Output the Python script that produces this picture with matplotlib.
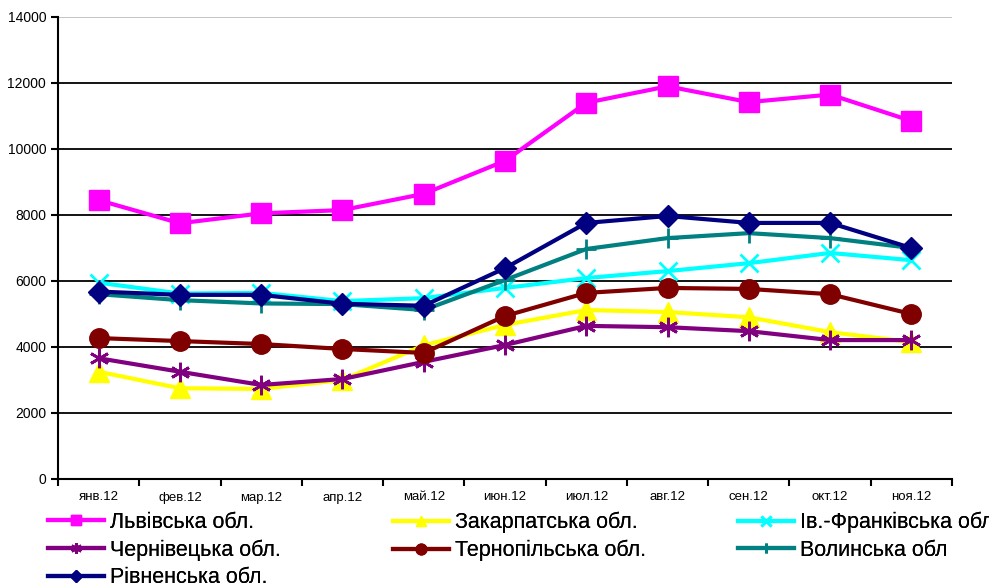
import matplotlib
matplotlib.use("Agg")
import matplotlib.pyplot as plt
from matplotlib import font_manager
import numpy as np

months = ["янв.12", "фев.12", "мар.12", "апр.12", "май.12", "июн.12",
          "июл.12", "авг.12", "сен.12", "окт.12", "ноя.12"]

lviv = [8450, 7750, 8050, 8150, 8640, 9640, 11400, 11900, 11420, 11650, 10850]
zakarp = [3250, 2750, 2730, 3000, 4050, 4670, 5120, 5060, 4900, 4450, 4150]
ivfr = [5950, 5620, 5640, 5390, 5480, 5790, 6090, 6300, 6540, 6850, 6630]
cherniv = [3660, 3250, 2850, 3030, 3550, 4060, 4640, 4600, 4480, 4210, 4210]
ternop = [4270, 4180, 4090, 3940, 3820, 4940, 5640, 5790, 5760, 5600, 5000]
volyn = [5600, 5420, 5320, 5300, 5120, 6030, 6970, 7300, 7450, 7300, 7000]
rivne = [5680, 5580, 5580, 5310, 5250, 6390, 7760, 7970, 7760, 7760, 7000]

names = ["Львівська обл.", "Закарпатська обл.", "Ів.-Франківська обл.",
         "Чернівецька обл.", "Тернопільська обл.", "Волинська обл",
         "Рівненська обл."]

avail = {f.name for f in font_manager.fontManager.ttflist}
narrow = "Liberation Sans Narrow" if "Liberation Sans Narrow" in avail else "Liberation Sans"
plt.rcParams['font.family'] = ['Liberation Sans', 'DejaVu Sans']

fig = plt.figure(figsize=(9.89, 5.85), dpi=100)
ax = fig.add_axes([58/989, 1-479/585, (952-58)/989, (479-17)/585])

x = np.arange(len(months))
styles = [
    (lviv, "#FF00FF", dict(marker="s", markersize=14)),
    (zakarp, "#FFFF00", dict(marker="^", markersize=14)),
    (ivfr, "#00FFFF", dict(marker="x", markersize=13, markeredgewidth=2)),
    (cherniv, "#800080", dict(marker=(6, 2, 0), markersize=14, markeredgewidth=2)),
    (ternop, "#800000", dict(marker="o", markersize=14)),
    (volyn, "#008080", dict(marker="+", markersize=14, markeredgewidth=2)),
    (rivne, "#000080", dict(marker="D", markersize=11)),
]
handles = []
for i, (vals, col, mk) in enumerate(styles):
    h, = ax.plot(x, vals, color=col, lw=3, markerfacecolor=col,
                 markeredgecolor=col, label=names[i], zorder=3 + i, **mk)
    handles.append(h)

ax.set_xlim(-0.5, len(months) - 0.5)
ax.set_ylim(0, 14000)
ax.set_yticks(np.arange(0, 14001, 2000))
ax.set_xticks(np.arange(-0.5, len(months), 1.0))
ax.set_xticklabels([])
ax.set_xticks(x, minor=True)
ax.set_xticklabels(months, minor=True, fontsize=9.5, family=narrow)
ax.tick_params(axis='x', which='minor', length=0, pad=9)
ax.tick_params(axis='x', which='major', length=5, width=1.5, direction='out')
ax.tick_params(axis='y', length=5, width=1.5, labelsize=10, direction='out')

for v in range(2000, 14000, 2000):
    ax.axhline(v, color='black', lw=1.3, zorder=1)
ax.axhline(14000, color='#BFBFBF', lw=1.3, zorder=1)

for s in ['top', 'right']:
    ax.spines[s].set_visible(False)
for s in ['left', 'bottom']:
    ax.spines[s].set_linewidth(1.5)

columns = [([0, 3, 6], 48), ([1, 4], 393), ([2, 5], 738)]
for idx, xpx in columns:
    leg = fig.legend([handles[i] for i in idx], [names[i] for i in idx],
                     ncol=1, loc='upper left',
                     bbox_to_anchor=(xpx/989, 1-512/585),
                     frameon=False, handlelength=2.6,
                     handletextpad=0.3, labelspacing=0.3, borderaxespad=0,
                     borderpad=0, markerscale=0.55,
                     prop={'family': narrow, 'size': 15.5})
    fig.add_artist(leg)

fig.savefig("out.png", dpi=100)
